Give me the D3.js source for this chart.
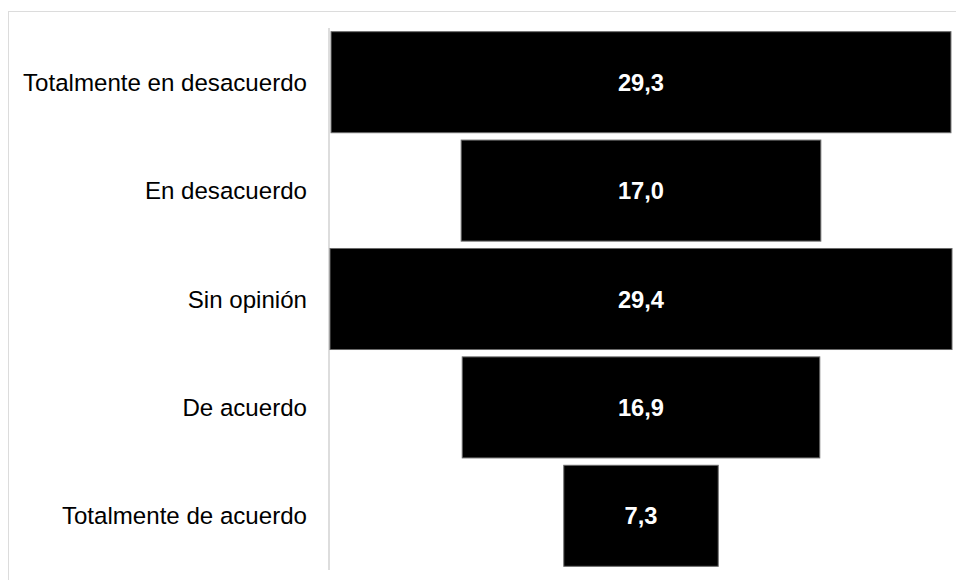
<!DOCTYPE html>
<html>
<head>
<meta charset="utf-8">
<script src="https://cdn.jsdelivr.net/npm/d3@7"></script>
<style>
  html, body { margin: 0; padding: 0; background: #fff; }
  svg { display: block; }
</style>
</head>
<body>
<svg id="chart" width="956" height="580"></svg>
<script>
const categories = ["Totalmente en desacuerdo", "En desacuerdo", "Sin opinión", "De acuerdo", "Totalmente de acuerdo"];
const values = [29.3, 17.0, 29.4, 16.9, 7.3];
const valueLabels = ["29,3", "17,0", "29,4", "16,9", "7,3"];

const svg = d3.select("#chart");
const W = 956, H = 580;
const plotLeft = 330, plotRight = 952, plotTop = 28, plotBottom = 570;
const cx = (plotLeft + plotRight) / 2;

// frame border (extends past the viewport on right/bottom)
svg.append("rect")
  .attr("x", 8.5).attr("y", 11.5)
  .attr("width", W + 20).attr("height", H + 20)
  .attr("fill", "none").attr("stroke", "#dcdcdc").attr("stroke-width", 1);

const y = d3.scaleBand()
  .domain(categories)
  .range([plotTop, plotBottom])
  .paddingInner(0.068)
  .paddingOuter(0.034);

const w = d3.scaleLinear()
  .domain([0, d3.max(values)])
  .range([0, plotRight - plotLeft]);

// axis line
svg.append("line")
  .attr("x1", 329).attr("x2", 329)
  .attr("y1", plotTop).attr("y2", plotBottom)
  .attr("stroke", "#dddddd").attr("stroke-width", 2);

const data = categories.map((c, i) => ({ c, v: values[i], l: valueLabels[i] }));

svg.append("g").selectAll("rect")
  .data(data).join("rect")
  .attr("x", d => cx - w(d.v) / 2)
  .attr("y", d => y(d.c))
  .attr("width", d => w(d.v))
  .attr("height", y.bandwidth())
  .attr("fill", "#000")
  .attr("stroke", "#6a6a6a")
  .attr("stroke-width", 1);

svg.append("g").selectAll("text")
  .data(data).join("text")
  .attr("x", cx)
  .attr("y", d => y(d.c) + y.bandwidth() / 2 + 8.5)
  .attr("text-anchor", "middle")
  .attr("font-family", "'Liberation Sans', Arial, Helvetica, sans-serif")
  .attr("font-weight", "bold")
  .attr("font-size", 23.7)
  .attr("fill", "#fff")
  .text(d => d.l);

// category labels
svg.append("g").selectAll("text")
  .data(data).join("text")
  .attr("x", 307)
  .attr("y", d => y(d.c) + y.bandwidth() / 2 + 8.5)
  .attr("text-anchor", "end")
  .attr("font-family", "'Liberation Sans', Arial, Helvetica, sans-serif")
  .attr("font-size", 24.1)
  .attr("fill", "#000")
  .text(d => d.c);
</script>
</body>
</html>
